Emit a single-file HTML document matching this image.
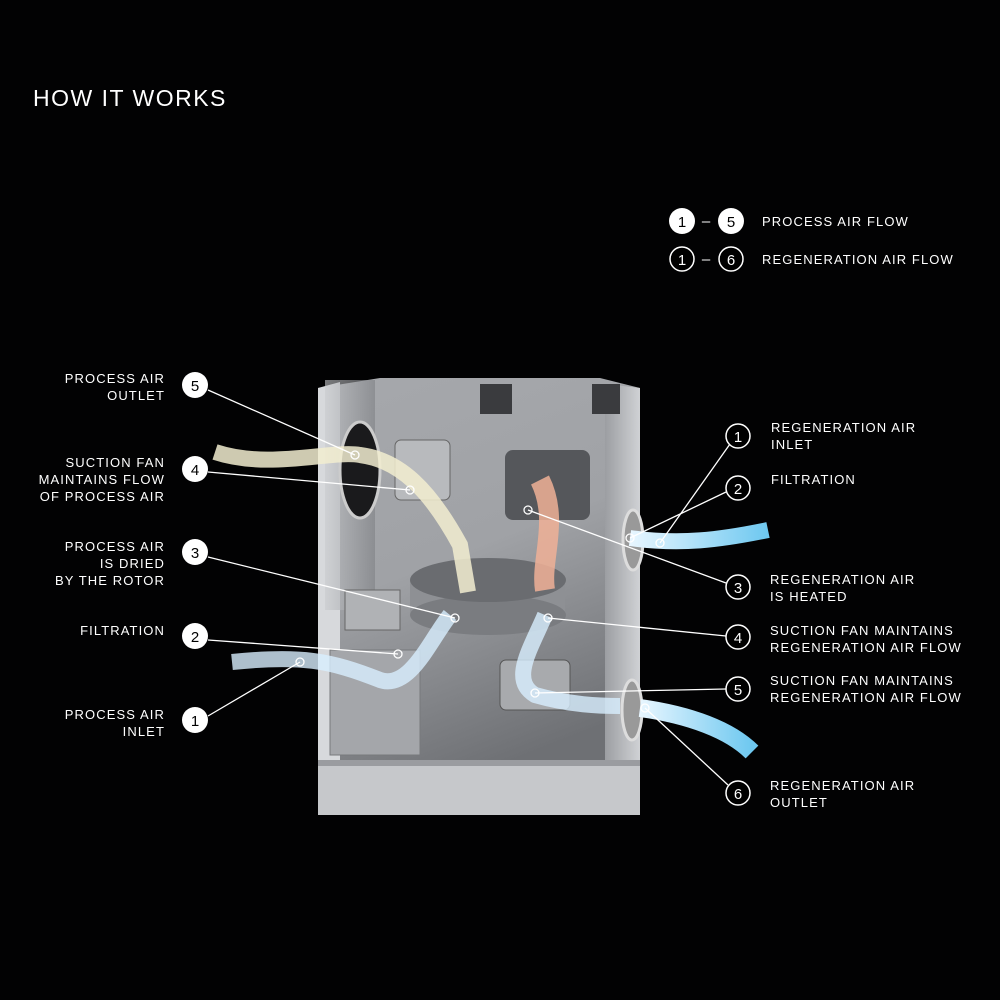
<!DOCTYPE html>
<html><head><meta charset="utf-8"><style>
body{margin:0;background:#020203;width:1000px;height:1000px;overflow:hidden;font-family:"Liberation Sans",sans-serif;color:#fff}
.t{position:absolute;font-size:13px;letter-spacing:1.1px;line-height:17px;white-space:nowrap}
.l{text-align:right}
</style></head><body>
<div class="t" style="left:33px;top:84px;font-size:23px;letter-spacing:1.5px;line-height:28px">HOW IT WORKS</div>
<svg width="1000" height="1000" style="position:absolute;left:0;top:0">
<defs>
<linearGradient id="back" x1="0" y1="0" x2="0.3" y2="1"><stop offset="0" stop-color="#a6a8ac"/><stop offset="0.5" stop-color="#a0a2a6"/><stop offset="1" stop-color="#6e7074"/></linearGradient>
<linearGradient id="side" x1="0" y1="0" x2="1" y2="0"><stop offset="0" stop-color="#c9cbce"/><stop offset="1" stop-color="#7e8084"/></linearGradient>
<linearGradient id="rside" x1="0" y1="0" x2="1" y2="0"><stop offset="0" stop-color="#9c9ea2"/><stop offset="1" stop-color="#d0d2d5"/></linearGradient>
<linearGradient id="blue" x1="0" y1="0" x2="1" y2="0"><stop offset="0" stop-color="#e8f6ff"/><stop offset="1" stop-color="#6ec8f0"/></linearGradient>
</defs>
<polygon points="318,388 380,378 600,378 640,388 640,800 318,800" fill="url(#back)"/>
<polygon points="318,388 340,382 340,792 318,800" fill="#d7d9dc"/>
<polygon points="605,384 640,388 640,790 605,780" fill="url(#rside)"/>
<rect x="325" y="380" width="50" height="230" fill="url(#side)" opacity="0.6"/>
<rect x="318" y="760" width="322" height="55" fill="#c6c8cb"/>
<rect x="318" y="760" width="322" height="6" fill="#9a9ca0"/>
<rect x="330" y="650" width="90" height="105" fill="#a4a6aa" stroke="#77797c"/>
<rect x="480" y="384" width="32" height="30" fill="#3a3b3e"/>
<rect x="592" y="384" width="28" height="30" fill="#3a3b3e"/>
<ellipse cx="360" cy="470" rx="20" ry="48" fill="#1a1a1c" stroke="#ccc" stroke-width="3"/>
<ellipse cx="633" cy="540" rx="10" ry="30" fill="#999" stroke="#ddd" stroke-width="3"/>
<ellipse cx="632" cy="710" rx="10" ry="30" fill="#999" stroke="#ddd" stroke-width="3"/>
<rect x="410" y="580" width="155" height="35" fill="#8e9094"/>
<ellipse cx="488" cy="615" rx="78" ry="20" fill="#7a7c80"/>
<ellipse cx="488" cy="580" rx="78" ry="22" fill="#6a6c70"/>
<rect x="395" y="440" width="55" height="60" rx="6" fill="#b8babd" stroke="#666"/>
<rect x="505" y="450" width="85" height="70" rx="8" fill="#55575b"/>
<rect x="500" y="660" width="70" height="50" rx="6" fill="#a8aaad" stroke="#555"/>
<rect x="345" y="590" width="55" height="40" fill="#b0b2b5" stroke="#666"/>
<path d="M215,452 C270,470 330,450 360,455 C400,460 430,490 460,545 L468,592" stroke="#f2edd0" stroke-width="16" fill="none" opacity="0.85"/>
<path d="M232,662 C300,655 330,660 380,680 C410,690 430,640 450,615" stroke="#d8efff" stroke-width="16" fill="none" opacity="0.8"/>
<path d="M540,480 C560,520 540,560 545,590" stroke="#f0b097" stroke-width="20" fill="none" opacity="0.85"/>
<path d="M545,615 C530,650 510,680 535,695 C570,705 600,706 620,706" stroke="#d8efff" stroke-width="16" fill="none" opacity="0.8"/>
<path d="M640,708 C690,715 730,730 752,752" stroke="url(#blue)" stroke-width="18" fill="none"/>
<path d="M630,538 C680,545 720,540 768,530" stroke="url(#blue)" stroke-width="16" fill="none"/>
<g stroke="#fff" stroke-width="1.3" fill="none">
<line x1="208" y1="390" x2="355" y2="455"/><line x1="208" y1="472" x2="410" y2="490"/>
<line x1="208" y1="557" x2="455" y2="618"/><line x1="208" y1="640" x2="398" y2="654"/>
<line x1="208" y1="716" x2="300" y2="662"/>
<line x1="730" y1="444" x2="660" y2="543"/><line x1="726" y1="492" x2="630" y2="538"/>
<line x1="726" y1="583" x2="528" y2="510"/><line x1="726" y1="636" x2="548" y2="618"/>
<line x1="726" y1="689" x2="535" y2="693"/><line x1="728" y1="785" x2="645" y2="708"/>
</g>
<g fill="none" stroke="#fff" stroke-width="1.3">
<circle cx="355" cy="455" r="4"/><circle cx="410" cy="490" r="4"/><circle cx="455" cy="618" r="4"/><circle cx="398" cy="654" r="4"/><circle cx="300" cy="662" r="4"/>
<circle cx="660" cy="543" r="4"/><circle cx="630" cy="538" r="4"/><circle cx="528" cy="510" r="4"/><circle cx="548" cy="618" r="4"/><circle cx="535" cy="693" r="4"/><circle cx="645" cy="708" r="4"/>
</g>
<g font-family="Liberation Sans" font-size="15" text-anchor="middle">
<g fill="#fff"><circle cx="682" cy="221" r="13"/><circle cx="731" cy="221" r="13"/>
<circle cx="195" cy="385" r="13"/><circle cx="195" cy="469" r="13"/><circle cx="195" cy="552" r="13"/><circle cx="195" cy="636" r="13"/><circle cx="195" cy="720" r="13"/></g>
<g fill="#000"><text x="682" y="227">1</text><text x="731" y="227">5</text>
<text x="195" y="391">5</text><text x="195" y="475">4</text><text x="195" y="558">3</text><text x="195" y="642">2</text><text x="195" y="726">1</text></g>
<g fill="#000" stroke="#fff" stroke-width="1.5"><circle cx="682" cy="259" r="12"/><circle cx="731" cy="259" r="12"/>
<circle cx="738" cy="436" r="12"/><circle cx="738" cy="488" r="12"/><circle cx="738" cy="587" r="12"/><circle cx="738" cy="637" r="12"/><circle cx="738" cy="689" r="12"/><circle cx="738" cy="793" r="12"/></g>
<g fill="#fff"><text x="682" y="265">1</text><text x="731" y="265">6</text>
<text x="738" y="442">1</text><text x="738" y="494">2</text><text x="738" y="593">3</text><text x="738" y="643">4</text><text x="738" y="695">5</text><text x="738" y="799">6</text>
<text x="706" y="226">–</text><text x="706" y="264">–</text></g>
</g>
</svg>
<div class="t" style="left:762px;top:213px">PROCESS AIR FLOW</div>
<div class="t" style="left:762px;top:251px">REGENERATION AIR FLOW</div>
<div class="t l" style="right:835px;top:370px">PROCESS AIR<br>OUTLET</div>
<div class="t l" style="right:835px;top:454px">SUCTION FAN<br>MAINTAINS FLOW<br>OF PROCESS AIR</div>
<div class="t l" style="right:835px;top:538px">PROCESS AIR<br>IS DRIED<br>BY THE ROTOR</div>
<div class="t l" style="right:835px;top:622px">FILTRATION</div>
<div class="t l" style="right:835px;top:706px">PROCESS AIR<br>INLET</div>
<div class="t" style="left:771px;top:419px">REGENERATION AIR<br>INLET</div>
<div class="t" style="left:771px;top:471px">FILTRATION</div>
<div class="t" style="left:770px;top:571px">REGENERATION AIR<br>IS HEATED</div>
<div class="t" style="left:770px;top:622px">SUCTION FAN MAINTAINS<br>REGENERATION AIR FLOW</div>
<div class="t" style="left:770px;top:672px">SUCTION FAN MAINTAINS<br>REGENERATION AIR FLOW</div>
<div class="t" style="left:770px;top:777px">REGENERATION AIR<br>OUTLET</div>
</body></html>
